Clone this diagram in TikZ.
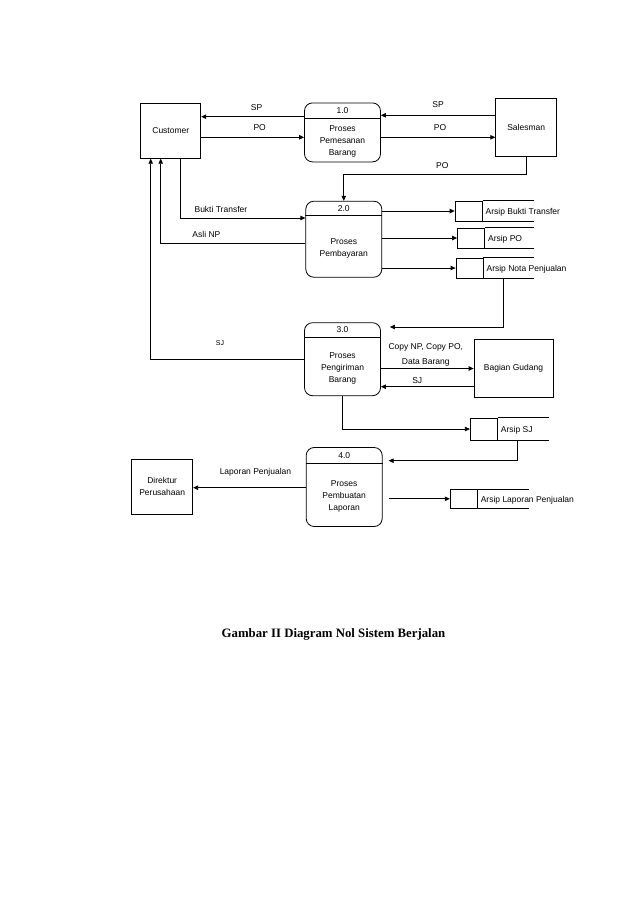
\documentclass[tikz,border=0pt]{standalone}
\usepackage{fontspec}
\setmainfont{Liberation Serif}
\setsansfont{Liberation Sans}
\usetikzlibrary{arrows.meta, positioning, calc}
\tikzstyle{entity} = [rectangle, draw=black, line width=0.8pt, inner sep=0pt, text centered, align=center, font=\sffamily\fontsize{8.5}{12}\selectfont]
\tikzstyle{proses} = [rectangle, rounded corners=8pt, minimum width=76pt, draw=black, line width=0.8pt]
\tikzstyle{txt} = [font=\sffamily\fontsize{8.5}{12.3}\selectfont, align=center, inner sep=1pt]
\tikzstyle{arsip} = [rectangle, minimum width=27pt, draw=black, line width=0.8pt]
\tikzstyle{arrow} = [line width=0.8pt, -{Triangle[length=5pt,width=4.5pt]}]
\tikzstyle{line} = [line width=0.8pt]

\begin{document}
\begin{tikzpicture}[x=1pt, y=1pt]
\useasboundingbox (0,0) rectangle (638,-903);

% entitas luar
\node (cust) [entity, minimum width=60pt, minimum height=55pt] at (170.8,-130.8) {Customer};
\node (sales) [entity, minimum width=61pt, minimum height=58pt] at (526.2,-127.2) {Salesman};
\node (gud) [entity, minimum width=79pt, minimum height=58pt] at (513.5,-368.3) {Bagian Gudang};
\node (dir) [entity, minimum width=61pt, minimum height=55pt] at (162.2,-486.5) {Direktur\\Perusahaan};

% proses
\node (pro1) [proses, minimum height=59pt] at (342.5,-132.4) {};
\node (pro2) [proses, minimum height=76pt] at (343.8,-239.2) {};
\node (pro3) [proses, minimum height=73pt] at (342.5,-359.2) {};
\node (pro4) [proses, minimum height=79pt] at (344.2,-487) {};

\draw [line] ([yshift=-15.5pt]pro1.north west) -- ([yshift=-15.5pt]pro1.north east);
\node [txt] at ([yshift=-7.75pt]pro1.north) {1.0};
\node [txt, yshift=-1.5pt] at ($([yshift=-15.5pt]pro1.north)!0.5!(pro1.south)$) {Proses\\Pemesanan\\Barang};

\draw [line] ([yshift=-15pt]pro2.north west) -- ([yshift=-15pt]pro2.north east);
\node [txt] at ([yshift=-7.5pt]pro2.north) {2.0};
\node [txt, yshift=-1.5pt] at ($([yshift=-15pt]pro2.north)!0.5!(pro2.south)$) {Proses\\Pembayaran};

\draw [line] ([yshift=-15.5pt]pro3.north west) -- ([yshift=-15.5pt]pro3.north east);
\node [txt] at ([yshift=-7.75pt]pro3.north) {3.0};
\node [txt, yshift=-1.5pt] at ($([yshift=-15.5pt]pro3.north)!0.5!(pro3.south)$) {Proses\\Pengiriman\\Barang};

\draw [line] ([yshift=-16pt]pro4.north west) -- ([yshift=-16pt]pro4.north east);
\node [txt] at ([yshift=-8pt]pro4.north) {4.0};
\node [txt, yshift=-1.5pt] at ($([yshift=-16pt]pro4.north)!0.5!(pro4.south)$) {Proses\\Pembuatan\\Laporan};

% data store
\node (abt) [arsip, minimum height=20pt] at (468.6,-211) {};
\node (abtl) [txt, right=2pt of abt, yshift=-1pt] {Arsip Bukti Transfer};
\draw [line] (abt.north east) -- ++(51,0);
\draw [line] (abt.south east) -- ++(51,0);

\node (apo) [arsip, minimum height=20pt] at (471,-238) {};
\node (apol) [txt, right=2pt of apo, yshift=-1pt] {Arsip PO};
\draw [line] (apo.north east) -- ++(49,0);
\draw [line] (apo.south east) -- ++(49,0);

\node (anp) [arsip, minimum height=20pt] at (469.5,-268) {};
\node (anpl) [txt, right=2pt of anp, yshift=-1pt] {Arsip Nota Penjualan};
\draw [line] (anp.north east) -- ++(51,0);
\draw [line] (anp.south east) -- ++(51,0);

\node (asj) [arsip, minimum height=22pt] at (483.8,-429) {};
\node (asjl) [txt, right=2pt of asj, yshift=-1pt] {Arsip SJ};
\draw [line] (asj.north east) -- ++(51,0);
\draw [line] (asj.south east) -- ++(51,0);

\node (alp) [arsip, minimum height=19pt] at (463.7,-498.8) {};
\node (alpl) [txt, right=2pt of alp, yshift=-1pt] {Arsip Laporan Penjualan};
\draw [line] (alp.north east) -- ++(51,0);
\draw [line] (alp.south east) -- ++(51,0);

% aliran data
\draw [arrow] (pro1.west |- 0,-116.7) -- node[txt, above=5pt, xshift=4pt] {SP} (cust.east |- 0,-116.7);
\draw [arrow] (cust.east |- 0,-137.3) -- node[txt, above=5pt, xshift=7pt] {PO} (pro1.west |- 0,-137.3);
\draw [arrow] (sales.west |- 0,-115.3) -- node[txt, above=6pt] {SP} (pro1.east |- 0,-115.3);
\draw [arrow] (pro1.east |- 0,-137.3) -- node[txt, above=5pt, xshift=2pt] {PO} (sales.west |- 0,-137.3);
\draw [arrow] (sales.south) |- node[txt, above=4pt, pos=0.73] {PO} (pro2.north |- 0,-174.3) -- (pro2.north);

\draw [arrow] (cust.south -| 180,0) |- node[txt, above=4pt, pos=0.663] {Bukti Transfer} (pro2.west |- 0,-218);
\draw [arrow] (pro2.west |- 0,-243) -| node[txt, above=4pt, pos=0.342] {Asli NP} (cust.south -| 160.7,0);
\draw [arrow] (pro3.west |- 0,-359) -| node[txt, above=12pt, pos=0.274, font=\sffamily\fontsize{7}{8}\selectfont] {SJ} (cust.south -| 150.7,0);

\draw [arrow] (pro2.east |- abt) -- (abt.west);
\draw [arrow] (pro2.east |- apo) -- (apo.west);
\draw [arrow] (pro2.east |- anp) -- (anp.west);

\draw [arrow, shorten >=9pt] ([xshift=19.5pt]anp.south east) |- (pro3.east |- 0,-327);
\draw [arrow] (pro3.east |- 0,-368.5) -- node[txt, above=1pt, xshift=-1.5pt] {Copy NP, Copy PO,\\[2.5pt]Data Barang} (gud.west |- 0,-368.5);
\draw [arrow] (gud.west |- 0,-386.7) -- node[txt, above=2pt, xshift=-10pt] {SJ} (pro3.east |- 0,-386.7);
\draw [arrow] (pro3.south) |- (asj.west);

\draw [arrow, shorten >=6pt] ([xshift=20pt]asj.south east) |- (pro4.east |- 0,-460.7);
\draw [arrow] (pro4.west |- 0,-487.7) -- node[txt, above=10pt, xshift=6pt] {Laporan Penjualan} (dir.east |- 0,-487.7);
\draw [arrow, shorten <=6pt] (pro4.east |- alp) -- (alp.west);

% judul
\node (judul) [font=\bfseries\fontsize{12.8}{15}\selectfont] at (333.5,-634) {Gambar II Diagram Nol Sistem Berjalan};

\end{tikzpicture}
\end{document}
